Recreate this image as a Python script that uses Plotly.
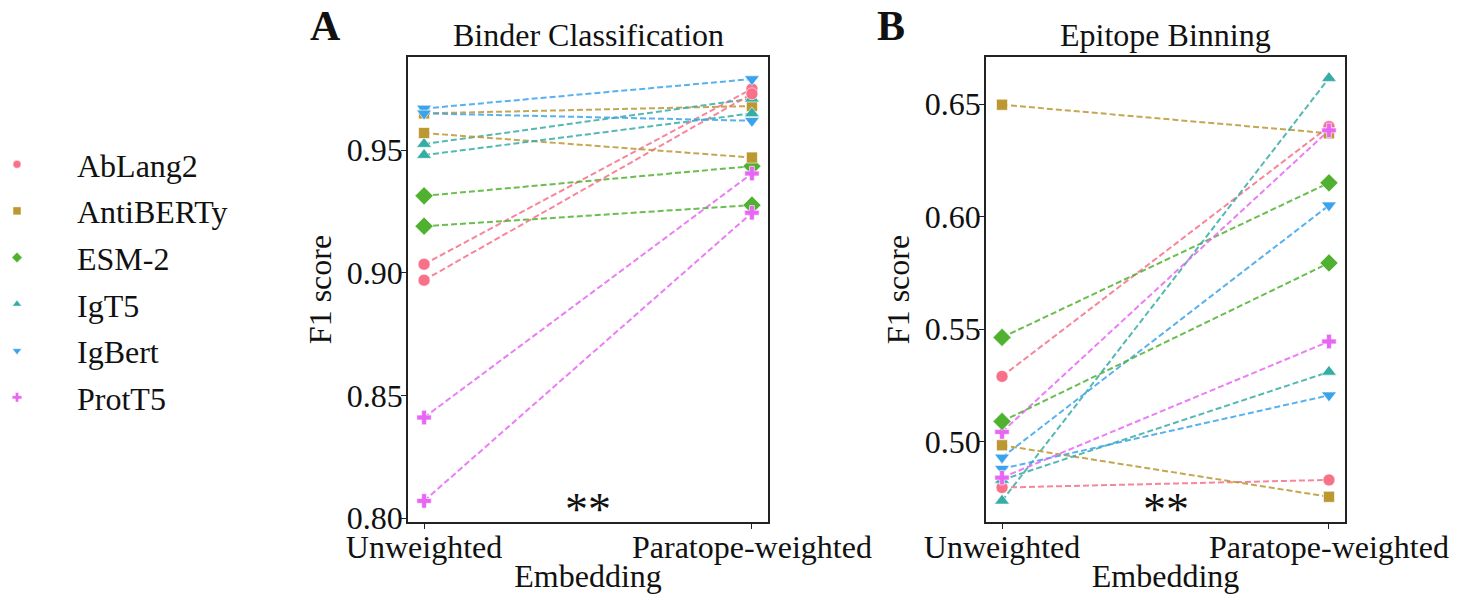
import plotly.graph_objects as go

categories = ["Unweighted", "Paratope-weighted"]
models = ["AbLang2", "AntiBERTy", "ESM-2", "IgT5", "IgBert", "ProtT5"]
colors = ["#f77189", "#bb9832", "#50b131", "#36ada4", "#3ba3ec", "#e866f4"]
symbols = ["circle", "square", "diamond", "triangle-up", "triangle-down", "cross"]

# Binder Classification: two runs per model (unweighted -> paratope-weighted)
binder_unweighted_1 = [0.9035, 0.965, 0.9314, 0.9525, 0.967, 0.841]
binder_weighted_1 = [0.975, 0.968, 0.9435, 0.971, 0.979, 0.9405]
binder_unweighted_2 = [0.897, 0.957, 0.919, 0.948, 0.965, 0.807]
binder_weighted_2 = [0.973, 0.947, 0.9276, 0.965, 0.962, 0.9245]

# Epitope Binning
epitope_unweighted_1 = [0.529, 0.6497, 0.5463, 0.4737, 0.493, 0.5043]
epitope_weighted_1 = [0.640, 0.637, 0.615, 0.6615, 0.605, 0.6383]
epitope_unweighted_2 = [0.4796, 0.4984, 0.509, 0.483, 0.488, 0.484]
epitope_weighted_2 = [0.483, 0.4755, 0.5794, 0.531, 0.5206, 0.5445]

FONT = "Liberation Serif"
FS = 32
fig = go.Figure()

def rgba(h, a):
    h = h.lstrip("#")
    return "rgba(%d,%d,%d,%.2f)" % (int(h[0:2], 16), int(h[2:4], 16), int(h[4:6], 16), a)

marker_sizes = {"circle": 12, "square": 11, "diamond": 14, "triangle-up": 13,
                "triangle-down": 13, "cross": 12}

panels = [
    ("x", "y", [(binder_unweighted_1, binder_weighted_1), (binder_unweighted_2, binder_weighted_2)]),
    ("x2", "y2", [(epitope_unweighted_1, epitope_weighted_1), (epitope_unweighted_2, epitope_weighted_2)]),
]

for xa, ya, runs in panels:
    for u, w in runs:
        for i, m in enumerate(models):
            fig.add_trace(go.Scatter(
                x=categories, y=[u[i], w[i]], xaxis=xa, yaxis=ya,
                mode="lines+markers", name=m, legendgroup=m, showlegend=False,
                line=dict(color=rgba(colors[i], 0.85), width=2, dash="6px,3px"),
                marker=dict(symbol=symbols[i], size=marker_sizes[symbols[i]], color=colors[i],
                            line=dict(color="white", width=0.6)),
            ))

# legend-only entries
for i, m in enumerate(models):
    fig.add_trace(go.Scatter(
        x=[None], y=[None], xaxis="x", yaxis="y", mode="markers", name=m, legendgroup=m,
        showlegend=True,
        marker=dict(symbol=symbols[i], size=8, color=colors[i], line=dict(color="white", width=0.5)),
    ))

W, H = 1460, 594
axA = (408, 768)
axB = (986, 1345)
top, bottom = 57, 522

def xd(a):
    return [a[0] / W, a[1] / W]

ydom = [1 - bottom / H, 1 - top / H]

common_x = dict(type="category", range=[-0.049, 1.049], showline=True, linecolor="#222",
                linewidth=1.5, mirror=True, ticks="outside", ticklen=5, tickwidth=1.3,
                tickcolor="#222", showgrid=False, zeroline=False, ticklabelstandoff=-9,
                tickfont=dict(family=FONT, size=FS, color="#111"),
                title=dict(text="Embedding", font=dict(family=FONT, size=FS, color="#111"), standoff=0))
common_y = dict(showline=True, linecolor="#222", linewidth=1.5, mirror=True, ticks="outside",
                ticklen=5, tickwidth=1.3, tickcolor="#222", showgrid=False, zeroline=False,
                tickformat=".2f", dtick=0.05, tick0=0, ticklabelstandoff=-8,
                tickfont=dict(family=FONT, size=FS, color="#111"),
                title=dict(text="F1 score", font=dict(family=FONT, size=FS, color="#111"), standoff=6))

fig.update_layout(
    width=W, height=H,
    margin=dict(l=0, r=0, t=0, b=0, autoexpand=False),
    plot_bgcolor="white", paper_bgcolor="white",
    font=dict(family=FONT, size=FS, color="#111"),
    xaxis=dict(domain=xd(axA), anchor="y", **common_x),
    yaxis=dict(domain=ydom, anchor="x", range=[0.7984, 0.988], **common_y),
    xaxis2=dict(domain=xd(axB), anchor="y2", **common_x),
    yaxis2=dict(domain=ydom, anchor="x2", range=[0.4643, 0.6709], **common_y),
    legend=dict(x=-43 / W, y=1 - 137 / H, xanchor="left", yanchor="top",
                font=dict(family=FONT, size=FS, color="#111"),
                tracegroupgap=2, itemwidth=110, bgcolor="rgba(0,0,0,0)"),
    showlegend=True,
    annotations=[
        dict(text="Binder Classification", x=sum(axA) / 2 / W, y=1 - 35 / H, xref="paper", yref="paper",
             showarrow=False, font=dict(family=FONT, size=FS, color="#111"), xanchor="center", yanchor="middle"),
        dict(text="Epitope Binning", x=sum(axB) / 2 / W, y=1 - 35 / H, xref="paper", yref="paper",
             showarrow=False, font=dict(family=FONT, size=FS, color="#111"), xanchor="center", yanchor="middle"),
        dict(text="<b>A</b>", x=325 / W, y=1 - 26 / H, xref="paper", yref="paper",
             showarrow=False, font=dict(family=FONT, size=42, color="#111"), xanchor="center", yanchor="middle"),
        dict(text="<b>B</b>", x=891 / W, y=1 - 26 / H, xref="paper", yref="paper",
             showarrow=False, font=dict(family=FONT, size=42, color="#111"), xanchor="center", yanchor="middle"),
        dict(text="**", x=0.5, y=-0.033, xref="x domain", yref="y domain", showarrow=False,
             font=dict(family=FONT, size=46, color="#111"), xanchor="center", yanchor="bottom"),
        dict(text="**", x=0.5, y=-0.033, xref="x2 domain", yref="y2 domain", showarrow=False,
             font=dict(family=FONT, size=46, color="#111"), xanchor="center", yanchor="bottom"),
    ],
)

fig.write_html("out.html", config={"displayModeBar": False},
               post_script="document.body.style.margin='0px';document.body.style.overflow='hidden';")
